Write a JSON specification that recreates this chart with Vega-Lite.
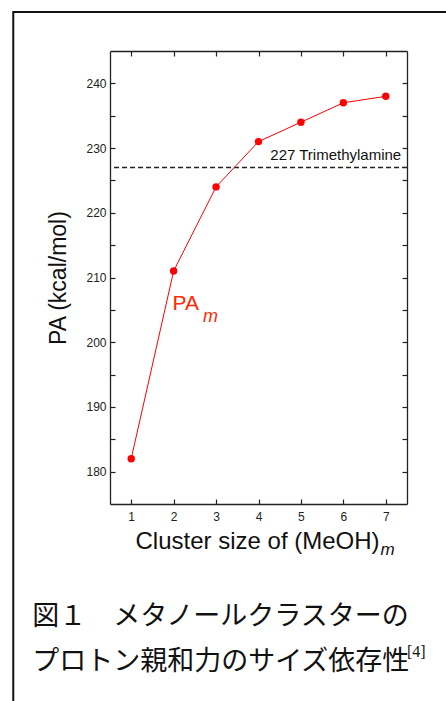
{
  "$schema": "https://vega.github.io/schema/vega-lite/v6.json",
  "width": 297,
  "height": 453,
  "autosize": {"type": "none"},
  "padding": {"left": 110, "top": 51, "right": 39, "bottom": 197},
  "background": "white",
  "config": {
    "view": {"stroke": null},
    "font": "Liberation Sans",
    "axis": {
      "domainColor": "#222",
      "domainWidth": 1.3,
      "tickColor": "#222",
      "tickWidth": 1.2,
      "tickSize": -5,
      "labelFont": "Liberation Sans",
      "labelFontSize": 12,
      "labelColor": "#222",
      "grid": false,
      "titleFont": "Liberation Sans",
      "titleFontWeight": "normal",
      "titleColor": "#111"
    }
  },
  "layer": [
    {
      "data": {"values": [{}]},
      "mark": {"type": "rect", "fill": null, "stroke": "#111", "strokeWidth": 2},
      "encoding": {
        "x": {"datum": -1.78, "type": "quantitative", "scale": {"domain": [0.5, 7.5], "nice": false, "zero": false}, "axis": null},
        "x2": {"datum": 12},
        "y": {"datum": 251.03, "type": "quantitative", "scale": {"domain": [175, 245], "nice": false, "zero": false}, "axis": null},
        "y2": {"datum": 100}
      }
    },
    {
      "data": {"values": [{"ref": 227}]},
      "mark": {"type": "rule", "color": "#222", "strokeWidth": 1.3, "strokeDash": [5, 3]},
      "encoding": {
        "y": {"field": "ref", "type": "quantitative", "scale": {"domain": [175, 245], "nice": false, "zero": false}, "axis": null}
      }
    },
    {
      "data": {"values": [
        {"m": 1, "pa": 182}, {"m": 2, "pa": 211}, {"m": 3, "pa": 224}, {"m": 4, "pa": 231},
        {"m": 5, "pa": 234}, {"m": 6, "pa": 237}, {"m": 7, "pa": 238}
      ]},
      "mark": {"type": "line", "color": "#ff0000", "strokeWidth": 1},
      "encoding": {
        "x": {"field": "m", "type": "quantitative", "scale": {"domain": [0.5, 7.5], "nice": false, "zero": false},
          "axis": {"orient": "bottom", "values": [1, 2, 3, 4, 5, 6, 7], "labelPadding": 12, "title": "Cluster size of (MeOH)", "titleFontSize": 24, "titleAlign": "left", "titleX": 25, "titlePadding": 7}},
        "y": {"field": "pa", "type": "quantitative", "scale": {"domain": [175, 245], "nice": false, "zero": false},
          "axis": {"orient": "left", "values": [180, 185, 190, 195, 200, 205, 210, 215, 220, 225, 230, 235, 240], "labelExpr": "datum.value % 10 === 0 ? datum.label : ''", "labelPadding": 9, "title": "PA (kcal/mol)", "titleFontSize": 23, "titlePadding": 15}}
      }
    },
    {
      "data": {"values": [
        {"m": 1, "pa": 182}, {"m": 2, "pa": 211}, {"m": 3, "pa": 224}, {"m": 4, "pa": 231},
        {"m": 5, "pa": 234}, {"m": 6, "pa": 237}, {"m": 7, "pa": 238}
      ]},
      "mark": {"type": "point", "filled": true, "color": "#ff0000", "size": 55, "opacity": 1},
      "encoding": {
        "x": {"field": "m", "type": "quantitative", "scale": {"domain": [0.5, 7.5], "nice": false, "zero": false},
          "axis": {"orient": "top", "values": [1, 2, 3, 4, 5, 6, 7], "labels": false, "title": null}},
        "y": {"field": "pa", "type": "quantitative", "scale": {"domain": [175, 245], "nice": false, "zero": false},
          "axis": {"orient": "right", "values": [180, 185, 190, 195, 200, 205, 210, 215, 220, 225, 230, 235, 240], "labels": false, "title": null}}
      }
    },
    {
      "data": {"values": [{}]},
      "mark": {"type": "text", "text": "227 Trimethylamine", "fontSize": 15, "align": "right", "baseline": "alphabetic", "color": "#111"},
      "encoding": {
        "x": {"datum": 7.364, "type": "quantitative", "scale": {"domain": [0.5, 7.5]}, "axis": null},
        "y": {"datum": 228.17, "type": "quantitative", "scale": {"domain": [175, 245]}, "axis": null}
      }
    },
    {
      "data": {"values": [{}]},
      "mark": {"type": "text", "text": "PA", "fontSize": 21, "align": "left", "baseline": "alphabetic", "color": "#ff2a00"},
      "encoding": {
        "x": {"datum": 1.975, "type": "quantitative", "scale": {"domain": [0.5, 7.5]}, "axis": null},
        "y": {"datum": 204.98, "type": "quantitative", "scale": {"domain": [175, 245]}, "axis": null}
      }
    },
    {
      "data": {"values": [{}]},
      "mark": {"type": "text", "text": "m", "fontSize": 18, "fontStyle": "italic", "align": "left", "baseline": "alphabetic", "color": "#ff2a00"},
      "encoding": {
        "x": {"datum": 2.69, "type": "quantitative", "scale": {"domain": [0.5, 7.5]}, "axis": null},
        "y": {"datum": 203.13, "type": "quantitative", "scale": {"domain": [175, 245]}, "axis": null}
      }
    },
    {
      "data": {"values": [{}]},
      "mark": {"type": "text", "text": "m", "fontSize": 17, "fontStyle": "italic", "align": "left", "baseline": "alphabetic", "color": "#111"},
      "encoding": {
        "x": {"datum": 6.876, "type": "quantitative", "scale": {"domain": [0.5, 7.5]}, "axis": null},
        "y": {"datum": 167.12, "type": "quantitative", "scale": {"domain": [175, 245]}, "axis": null}
      }
    },
    {
      "data": {"values": [{}]},
      "mark": {"type": "text", "text": "図１　メタノールクラスターの", "fontSize": 27, "font": "Noto Sans CJK JP", "align": "left", "baseline": "middle", "color": "#111"},
      "encoding": {
        "x": {"datum": -1.335, "type": "quantitative", "scale": {"domain": [0.5, 7.5]}, "axis": null},
        "y": {"datum": 157.53, "type": "quantitative", "scale": {"domain": [175, 245]}, "axis": null}
      }
    },
    {
      "data": {"values": [{}]},
      "mark": {"type": "text", "text": "プロトン親和力のサイズ依存性", "fontSize": 27, "font": "Noto Sans CJK JP", "align": "left", "baseline": "middle", "color": "#111"},
      "encoding": {
        "x": {"datum": -1.335, "type": "quantitative", "scale": {"domain": [0.5, 7.5]}, "axis": null},
        "y": {"datum": 150.58, "type": "quantitative", "scale": {"domain": [175, 245]}, "axis": null}
      }
    },
    {
      "data": {"values": [{}]},
      "mark": {"type": "text", "text": "[4]", "fontSize": 16, "font": "Liberation Serif", "align": "left", "baseline": "alphabetic", "color": "#111"},
      "encoding": {
        "x": {"datum": 7.5, "type": "quantitative", "scale": {"domain": [0.5, 7.5]}, "axis": null},
        "y": {"datum": 151.4, "type": "quantitative", "scale": {"domain": [175, 245]}, "axis": null}
      }
    }
  ],
  "resolve": {"axis": {"x": "independent", "y": "independent"}}
}
